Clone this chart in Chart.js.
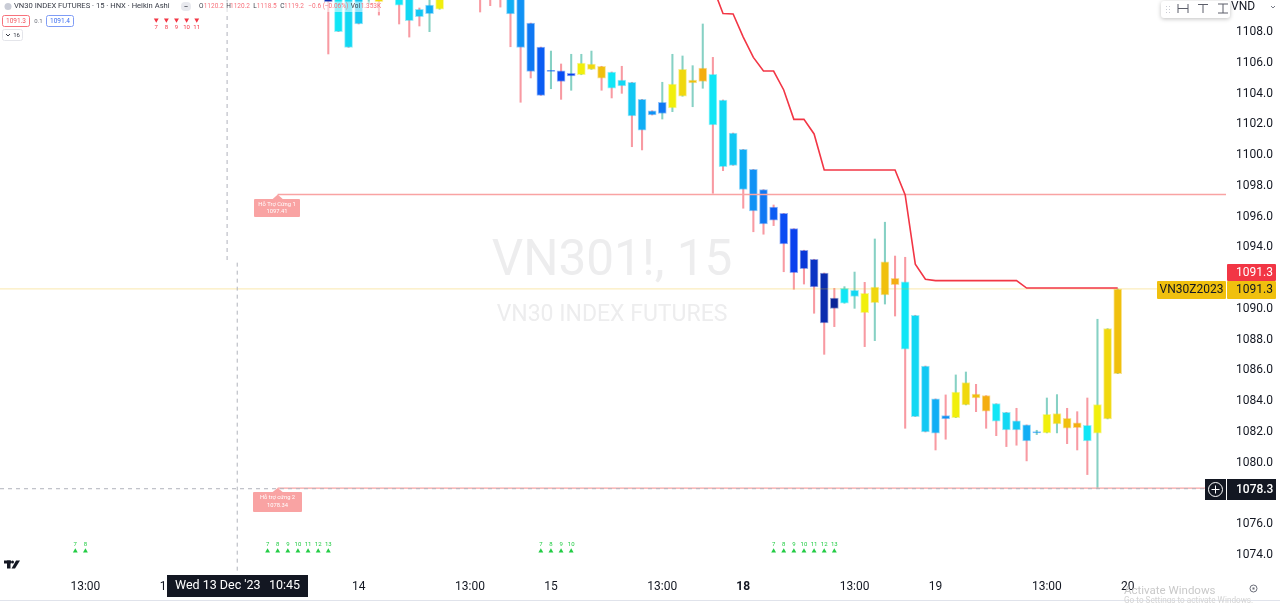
<!DOCTYPE html>
<html>
<head>
<meta charset="utf-8">
<title>VN30 INDEX FUTURES</title>
<script src="https://cdn.jsdelivr.net/npm/chart.js@4/dist/chart.umd.min.js"></script>
<style>
    html, body { margin: 0; padding: 0; background: #fff; overflow: hidden; }
    canvas { display: block; }
</style>
</head>
<body>
<canvas id="chart" width="1280" height="603"></canvas>
<script>
// Heikin Ashi candles, bar 0 is the first one on screen, bars 0-18 run off the top of the pane
const opens = [1110.47, 1111.38, 1110.73, 1110.41, 1110.30, 1110.60, 1110.50, 1110.60, 1110.30, 1109.48,
    1109.19, 1109.48, 1110.40, 1110.80, 1111.20, 1111.00, 1110.90, 1110.90, 1110.73, 1110.40,
    1108.58, 1107.02, 1105.43, 1105.48, 1105.14, 1105.22, 1105.57, 1105.77, 1105.40, 1104.88,
    1104.73, 1103.62, 1102.88, 1102.71, 1103.06, 1103.82, 1104.68, 1104.79, 1105.25, 1103.58,
    1101.43, 1100.37, 1099.07, 1097.75, 1096.62, 1096.21, 1095.21, 1093.81, 1093.22, 1092.33,
    1090.70, 1090.36, 1090.81, 1091.01, 1090.40, 1090.90, 1091.98, 1091.76, 1089.58, 1086.28,
    1084.14, 1083.05, 1082.92, 1083.75, 1084.46, 1084.35, 1083.83, 1083.27, 1082.71, 1082.45,
    1081.93, 1081.93, 1082.51, 1082.88, 1082.58, 1082.43, 1081.91, 1082.84, 1085.78];
const closes = [1109.95, 1108.02, 1107.00, 1108.52, 1110.90, 1109.95, 1111.00, 1109.75, 1108.73, 1108.99,
    1109.75, 1110.40, 1111.00, 1111.30, 1110.90, 1110.50, 1110.50, 1110.40, 1109.17, 1107.00,
    1105.44, 1103.88, 1105.51, 1104.79, 1105.31, 1105.98, 1105.92, 1104.99, 1104.34, 1104.49,
    1102.54, 1101.61, 1102.60, 1103.43, 1104.62, 1105.57, 1104.88, 1105.66, 1101.95, 1099.24,
    1099.33, 1097.77, 1096.36, 1095.52, 1095.76, 1094.22, 1092.35, 1092.61, 1091.42, 1089.08,
    1090.03, 1091.33, 1091.20, 1089.75, 1091.42, 1093.06, 1091.57, 1087.37, 1082.99, 1081.99,
    1081.91, 1082.84, 1084.59, 1085.20, 1084.20, 1083.34, 1082.69, 1082.12, 1082.12, 1081.41,
    1082.01, 1083.14, 1083.18, 1082.23, 1082.27, 1081.41, 1083.77, 1088.71, 1091.29];
const highs = [1110.60, 1111.50, 1110.90, 1110.60, 1111.00, 1110.90, 1111.20, 1110.80, 1110.40, 1109.56,
    1110.40, 1110.60, 1111.40, 1111.60, 1111.50, 1111.20, 1111.10, 1111.00, 1110.80, 1110.50,
    1108.58, 1107.02, 1106.76, 1105.92, 1106.55, 1106.55, 1106.76, 1105.77, 1105.40, 1105.77,
    1104.73, 1103.62, 1102.88, 1104.73, 1106.55, 1106.44, 1105.81, 1108.52, 1106.35, 1103.58,
    1101.43, 1100.37, 1099.07, 1097.75, 1096.75, 1096.21, 1095.21, 1093.81, 1093.22, 1092.33,
    1091.33, 1091.44, 1092.39, 1091.72, 1094.54, 1095.63, 1093.43, 1093.35, 1089.58, 1086.28,
    1084.14, 1084.40, 1085.70, 1085.89, 1085.09, 1084.35, 1083.83, 1083.27, 1083.53, 1082.45,
    1082.10, 1084.20, 1084.42, 1083.53, 1083.31, 1084.20, 1089.32, 1088.71, 1091.29];
const lows = [1106.57, 1108.02, 1107.00, 1108.52, 1109.82, 1109.10, 1110.30, 1108.52, 1107.67, 1108.39,
    1108.02, 1109.48, 1110.30, 1110.60, 1110.50, 1109.30, 1109.71, 1109.62, 1107.04, 1103.43,
    1105.01, 1103.88, 1104.31, 1103.62, 1104.21, 1105.22, 1105.57, 1104.21, 1103.71, 1104.01,
    1100.54, 1100.33, 1102.60, 1102.34, 1102.82, 1103.82, 1103.14, 1104.34, 1097.51, 1098.98,
    1099.33, 1096.54, 1095.01, 1094.85, 1095.41, 1092.41, 1091.27, 1091.61, 1089.71, 1087.04,
    1088.84, 1090.36, 1090.03, 1087.54, 1087.93, 1090.31, 1089.53, 1082.23, 1082.99, 1081.99,
    1080.82, 1081.52, 1082.92, 1083.75, 1083.31, 1082.23, 1081.75, 1081.04, 1081.13, 1080.11,
    1081.82, 1081.93, 1081.93, 1081.23, 1080.82, 1079.22, 1078.33, 1082.84, 1085.78];
// index into the body palette below
const trendLevels = [15, 4, 5, 6, 0, 1, 1, 4, 5, 6,
    7, 0, 1, 2, 3, 4, 5, 6, 7, 8,
    9, 10, 10, 11, 12, 0, 1, 2, 4, 5,
    6, 7, 8, 9, 0, 1, 2, 3, 4, 5,
    6, 7, 8, 9, 10, 11, 12, 13, 14, 15,
    16, 4, 5, 0, 1, 2, 3, 4, 5, 6,
    7, 8, 0, 1, 2, 3, 4, 5, 6, 7,
    8, 0, 1, 2, 3, 4, 0, 1, 2];

// red trailing stop, starts at bar 38
const stopStart = 38;
const stopValues = [1110.93, 1109.20, 1109.17, 1107.67, 1106.35, 1105.46, 1105.46, 1104.23, 1102.32, 1102.32,
    1101.37, 1099.03, 1099.03, 1099.03, 1099.03, 1099.03, 1099.03, 1099.03, 1099.03, 1097.40,
    1092.90, 1091.92, 1091.83, 1091.83, 1091.83, 1091.83, 1091.83, 1091.83, 1091.83, 1091.83,
    1091.83, 1091.35, 1091.35, 1091.35, 1091.35, 1091.35, 1091.35, 1091.35, 1091.35, 1091.35,
    1091.35];

const priceTicks = [1074, 1076, 1078, 1080, 1082, 1084, 1086, 1088, 1090, 1092, 1094, 1096, 1098, 1100, 1102, 1104, 1106, 1108];
const timeTickBars = [-24, -16, -5, 3, 14, 22, 33, 41, 52, 60, 71, 79];
const timeTickLabels = ['13:00', '13', '13:00', '14', '13:00', '15', '13:00', '18', '13:00', '19', '13:00', '20'];
const boldTimeLabels = ['18'];

const lastPrice = 1091.3;
const crosshairPrice = 1078.3;
const crosshairBarUpper = -10;
const crosshairBarLower = -9;

const supportStartBar = -5;
const support1 = 1097.43;
const support2 = 1078.34;

const sellBars = [-17, -16, -15, -14, -13];
const sellCounts = [7, 8, 9, 10, 11];
const sellLevel = 1108.78;
const buyBars = [-25, -24, -6, -5, -4, -3, -2, -1, 0, 21, 22, 23, 24, 44, 45, 46, 47, 48, 49, 50];
const buyCounts = [7, 8, 7, 8, 9, 10, 11, 12, 13, 7, 8, 9, 10, 7, 8, 9, 10, 11, 12, 13];
const buyLevel = 1074.25;

const bodyPalette = ['#f1ef0c', '#f0d80e', '#f0c00e', '#f4ae10', '#10e6f6', '#12d8f3', '#12c8f3', '#10aef5',
    '#1092f5', '#0f78f3', '#0a5cf3', '#0a4cf3', '#0a40ee', '#0a38d8', '#0a34c4', '#0a2cae', '#0a2498'];

const sans = 'Roboto, "Liberation Sans", Arial, sans-serif';
const upWick = 'rgba(34, 171, 148, 0.55)';
const downWick = 'rgba(242, 54, 69, 0.5)';
const supportColor = '#f9a3a3';

const xRange = { min: -32.44, max: 88.7 };
const yRange = { min: 1072.82, max: 1110.08 };

const bars = opens.map((o, i) => i);
const body = bars.map(i => ({ x: i, y: [Math.min(opens[i], closes[i]), Math.max(opens[i], closes[i])] }));
const wick = bars.map(i => ({ x: i, y: [lows[i], highs[i]] }));

function flatLine(fromBar, toBar, value) {
    return [{ x: fromBar, y: value }, { x: toBar, y: value }];
}

function box(ctx, x, y, w, h, fill, radius) {
    ctx.fillStyle = fill;
    ctx.beginPath();
    ctx.roundRect(x, y, w, h, radius || 0);
    ctx.fill();
}

function label(ctx, text, x, y, font, color, align) {
    ctx.font = font;
    ctx.fillStyle = color;
    ctx.textAlign = align || 'left';
    ctx.textBaseline = 'middle';
    ctx.fillText(text, x, y);
}

function seg(ctx, pts, color, width) {
    ctx.strokeStyle = color;
    ctx.lineWidth = width || 1;
    ctx.beginPath();
    pts.forEach((p, i) => i ? ctx.lineTo(p[0], p[1]) : ctx.moveTo(p[0], p[1]));
    ctx.stroke();
}

function drawSupportNote(ctx, tipX, tipY, x, y, w, h, lines) {
    ctx.fillStyle = supportColor;
    ctx.beginPath();
    ctx.moveTo(tipX, tipY);
    ctx.lineTo(tipX + 5, y);
    ctx.lineTo(tipX - 5, y);
    ctx.fill();
    box(ctx, x, y, w, h, supportColor, 1);
    label(ctx, lines[0], x + w / 2, y + h * 0.3, '5.8px ' + sans, '#fff', 'center');
    label(ctx, lines[1], x + w / 2, y + h * 0.7, '5.8px ' + sans, '#fff', 'center');
}

const annotations = {
    id: 'annotations',
    afterDatasetsDraw(chart) {
        const ctx = chart.ctx;
        const xs = chart.scales.x;
        const ys = chart.scales.y;
        ctx.save();

        // big symbol watermark
        label(ctx, 'VN301!, 15', 612, 263, '49.5px ' + sans, '#ededee', 'center');
        label(ctx, 'VN30 INDEX FUTURES', 612, 315, '23px ' + sans, '#ededee', 'center');

        sellBars.forEach((b, i) => {
            label(ctx, String(sellCounts[i]), xs.getPixelForValue(b), 27.5, '6px ' + sans, '#f23645', 'center');
        });
        buyBars.forEach((b, i) => {
            label(ctx, String(buyCounts[i]), xs.getPixelForValue(b), 544.5, '6px ' + sans, '#22cc44', 'center');
        });

        drawSupportNote(ctx, xs.getPixelForValue(supportStartBar), ys.getPixelForValue(support1),
            254, 199, 46, 18, ['Hỗ Trợ Cứng 1', '1097.41']);
        drawSupportNote(ctx, xs.getPixelForValue(supportStartBar), ys.getPixelForValue(support2),
            253, 492, 49, 20, ['Hỗ trợ cứng 2', '1078.34']);

        // legend rows, the washed band sits over the candles like the real one
        box(ctx, 0, 1.5, 383, 10.5, 'rgba(255, 255, 255, 0.55)');
        ctx.fillStyle = '#c9ccd6';
        ctx.beginPath();
        ctx.arc(8, 6.5, 3.5, 0, Math.PI * 2);
        ctx.fill();
        label(ctx, 'VN30 INDEX FUTURES · 15 · HNX · Heikin Ashi', 14, 6.5, '7.6px ' + sans, '#363a45');
        box(ctx, 181, 2, 10, 9, '#e8e9ee', 4);
        label(ctx, '−', 186, 6.5, '8px ' + sans, '#131722', 'center');
        const legendRed = '#f7727c';
        const legendFont = '6.5px ' + sans;
        label(ctx, 'O', 199, 6.5, legendFont, '#363a45');
        label(ctx, '1120.2', 203.7, 6.5, legendFont, legendRed);
        label(ctx, 'H', 226.3, 6.5, legendFont, '#363a45');
        label(ctx, '1120.2', 230, 6.5, legendFont, legendRed);
        label(ctx, 'L', 253.3, 6.5, legendFont, '#363a45');
        label(ctx, '1118.5', 256.7, 6.5, legendFont, legendRed);
        label(ctx, 'C', 280.3, 6.5, legendFont, '#363a45');
        label(ctx, '1119.2', 284, 6.5, legendFont, legendRed);
        label(ctx, '−0.6 (−0.06%)', 308.3, 6.5, legendFont, legendRed);
        label(ctx, 'Vol', 350.7, 6.5, legendFont, '#363a45');
        label(ctx, '1.353K', 360.7, 6.5, legendFont, legendRed);

        ctx.strokeStyle = '#f7727c';
        ctx.lineWidth = 1;
        ctx.beginPath();
        ctx.roundRect(2.5, 15.5, 27, 11, 2);
        ctx.stroke();
        label(ctx, '1091.3', 16, 21, '6.5px ' + sans, '#f2555f', 'center');
        label(ctx, '0.1', 38.5, 21, '6px ' + sans, '#6a6d78', 'center');
        ctx.strokeStyle = '#7f9cf5';
        ctx.beginPath();
        ctx.roundRect(46.5, 15.5, 27, 11, 2);
        ctx.stroke();
        label(ctx, '1091.4', 60, 21, '6.5px ' + sans, '#3a6cf0', 'center');
        ctx.strokeStyle = '#e4e5ea';
        ctx.beginPath();
        ctx.roundRect(2.5, 29.5, 20, 11, 2);
        ctx.stroke();
        seg(ctx, [[6, 34], [8, 36], [10, 34]], '#363a45');
        label(ctx, '16', 16.5, 35, '6px ' + sans, '#363a45', 'center');

        // TradingView mark
        ctx.fillStyle = '#131722';
        ctx.fillRect(4, 560.5, 7, 3);
        ctx.fillRect(7, 560.5, 3.5, 8);
        ctx.beginPath();
        ctx.arc(12.5, 562, 1.5, 0, Math.PI * 2);
        ctx.fill();
        ctx.beginPath();
        ctx.moveTo(16, 560.5);
        ctx.lineTo(20, 560.5);
        ctx.lineTo(15, 568.5);
        ctx.lineTo(11.5, 568.5);
        ctx.fill();

        ctx.restore();
    },
    afterDraw(chart) {
        const ctx = chart.ctx;
        const ys = chart.scales.y;
        const lastY = Math.round(ys.getPixelForValue(lastPrice));
        const crossY = Math.round(ys.getPixelForValue(crosshairPrice));
        ctx.save();

        // price tags
        box(ctx, 1227, lastY - 25, 49, 17, '#f23645', 1);
        label(ctx, '1091.3', 1236, lastY - 16, '12px ' + sans, '#fff');
        box(ctx, 1157, lastY - 8, 69, 18, '#f0c00e', 1);
        label(ctx, 'VN30Z2023', 1191.5, lastY + 1, '12px ' + sans, '#131722', 'center');
        box(ctx, 1227, lastY - 8, 49, 18, '#f0c00e', 1);
        label(ctx, '1091.3', 1236, lastY + 1, '12px ' + sans, '#131722');

        box(ctx, 1205, crossY - 10, 21, 21, '#131722');
        ctx.strokeStyle = '#fff';
        ctx.lineWidth = 1;
        ctx.beginPath();
        ctx.arc(1215.5, crossY + 0.5, 7, 0, Math.PI * 2);
        ctx.stroke();
        seg(ctx, [[1211.5, crossY + 0.5], [1219.5, crossY + 0.5]], '#fff');
        seg(ctx, [[1215.5, crossY - 3.5], [1215.5, crossY + 4.5]], '#fff');
        box(ctx, 1227, crossY - 10, 49, 21, '#131722');
        label(ctx, '1078.3', 1236, crossY + 0.5, '500 12px ' + sans, '#fff');

        // crosshair date
        box(ctx, 167, 575, 141, 22, '#131722');
        label(ctx, "Wed 13 Dec '23", 175, 586, '12.5px ' + sans, '#fff');
        label(ctx, '10:45', 269, 586, '12.5px ' + sans, '#fff');

        // floating drawing toolbar
        ctx.shadowColor = 'rgba(0, 0, 0, 0.25)';
        ctx.shadowBlur = 4;
        ctx.shadowOffsetY = 1;
        box(ctx, 1161, 1, 69, 17, '#fff', 3);
        ctx.shadowColor = 'transparent';
        ctx.shadowBlur = 0;
        ctx.shadowOffsetY = 0;
        ctx.fillStyle = '#c8cad2';
        [[1166, 6], [1169, 6], [1166, 9], [1169, 9], [1166, 12], [1169, 12]].forEach(p => ctx.fillRect(p[0], p[1], 1, 1));
        const ink = '#5c5f6a';
        seg(ctx, [[1178, 4], [1178, 13]], ink);
        seg(ctx, [[1188, 4], [1188, 13]], ink);
        seg(ctx, [[1178, 8.5], [1188, 8.5]], ink);
        seg(ctx, [[1198, 4.5], [1208, 4.5]], ink);
        seg(ctx, [[1203, 4.5], [1203, 13]], ink);
        seg(ctx, [[1218, 4], [1228, 4]], ink);
        seg(ctx, [[1218, 13], [1228, 13]], ink);
        seg(ctx, [[1223, 4], [1223, 13]], ink);

        label(ctx, 'VND', 1231, 7, '12px ' + sans, '#131722');
        seg(ctx, [[1271, 6], [1273, 8], [1275, 6]], '#787b86');

        // scales button and window bottom edge
        ctx.strokeStyle = '#6a6d78';
        ctx.lineWidth = 1;
        ctx.beginPath();
        ctx.arc(1253.5, 588.5, 3.5, 0, Math.PI * 2);
        ctx.stroke();
        ctx.fillStyle = '#6a6d78';
        ctx.fillRect(1252.5, 587.5, 2, 2);
        ctx.fillStyle = '#e0e3eb';
        ctx.fillRect(0, 600, 1280, 1);

        label(ctx, 'Activate Windows', 1124, 591, '11.5px ' + sans, '#c9c9c9');
        label(ctx, 'Go to Settings to activate Windows.', 1124, 601, '8.2px ' + sans, '#d4d4d4');

        ctx.restore();
    }
};

const datasets = [
    {
        type: 'line', data: stopValues.map((v, i) => ({ x: stopStart + i, y: v })),
        borderColor: '#f23645', borderWidth: 1.6, pointRadius: 0, tension: 0, order: 1
    },
    {
        type: 'line', data: flatLine(xRange.min, xRange.max, lastPrice),
        borderColor: 'rgba(240, 192, 14, 0.28)', borderWidth: 1.2, pointRadius: 0, order: 2
    },
    {
        type: 'line', data: flatLine(supportStartBar, xRange.max, support1),
        borderColor: supportColor, borderWidth: 1.4, pointRadius: 0, order: 2
    },
    {
        type: 'line', data: flatLine(supportStartBar, xRange.max, support2),
        borderColor: supportColor, borderWidth: 1.4, pointRadius: 0, order: 2
    },
    {
        type: 'line', data: flatLine(xRange.min, xRange.max, crosshairPrice),
        borderColor: '#b0b3bc', borderWidth: 1, borderDash: [4, 4], pointRadius: 0, order: 1
    },
    {
        type: 'line', data: [{ x: crosshairBarUpper, y: yRange.max }, { x: crosshairBarUpper, y: 1093.0 }],
        borderColor: '#b0b3bc', borderWidth: 1, borderDash: [4, 4], pointRadius: 0, order: 1
    },
    {
        type: 'line', data: [{ x: crosshairBarLower, y: 1093.0 }, { x: crosshairBarLower, y: yRange.min }],
        borderColor: '#b0b3bc', borderWidth: 1, borderDash: [4, 4], pointRadius: 0, order: 1
    },
    {
        type: 'scatter', data: sellBars.map(b => ({ x: b, y: sellLevel })),
        pointStyle: 'triangle', rotation: 180, pointRadius: 2.8, pointBackgroundColor: '#f23645', pointBorderWidth: 0, order: 1
    },
    {
        type: 'scatter', data: buyBars.map(b => ({ x: b, y: buyLevel })),
        pointStyle: 'triangle', pointRadius: 2.8, pointBackgroundColor: '#22cc44', pointBorderWidth: 0, order: 1
    },
    {
        type: 'bar', data: body, grouped: false, barThickness: 8, order: 3,
        backgroundColor: trendLevels.map(l => bodyPalette[l]),
        borderColor: trendLevels.map(l => bodyPalette[l] + '70'),
        borderWidth: 1, borderSkipped: false
    },
    {
        type: 'bar', data: wick, grouped: false, barThickness: 1.4, order: 4,
        backgroundColor: bars.map(i => closes[i] >= opens[i] ? upWick : downWick)
    }
];

new Chart(document.getElementById('chart').getContext('2d'), {
    type: 'bar',
    data: { datasets: datasets },
    plugins: [annotations],
    options: {
        responsive: false,
        animation: false,
        layout: { padding: 0, autoPadding: false },
        plugins: { legend: { display: false }, tooltip: { enabled: false } },
        scales: {
            x: {
                type: 'linear',
                offset: false,
                min: xRange.min,
                max: xRange.max,
                grid: { display: false, drawTicks: false },
                border: { display: false },
                afterBuildTicks: scale => { scale.ticks = timeTickBars.map(v => ({ value: v })); },
                afterFit: scale => {
                    scale.height = 30;
                    scale.paddingLeft = 0;
                    scale.paddingRight = 0;
                },
                ticks: {
                    autoSkip: false,
                    maxRotation: 0,
                    padding: 7,
                    color: '#131722',
                    callback: value => timeTickLabels[timeTickBars.indexOf(value)],
                    font: ctx => {
                        const text = timeTickLabels[timeTickBars.indexOf(ctx.tick && ctx.tick.value)];
                        return { family: sans, size: 12, weight: boldTimeLabels.includes(text) ? 'bold' : 'normal' };
                    }
                }
            },
            y: {
                position: 'right',
                beginAtZero: false,
                min: yRange.min,
                max: yRange.max,
                grid: { display: false, drawTicks: false },
                border: { display: false },
                afterBuildTicks: scale => { scale.ticks = priceTicks.map(v => ({ value: v })); },
                afterFit: scale => {
                    scale.width = 54;
                    scale.paddingTop = 0;
                    scale.paddingBottom = 0;
                },
                ticks: {
                    padding: 10,
                    color: '#131722',
                    font: { family: sans, size: 12 },
                    callback: value => value.toFixed(1)
                }
            }
        }
    }
});
</script>
</body>
</html>
